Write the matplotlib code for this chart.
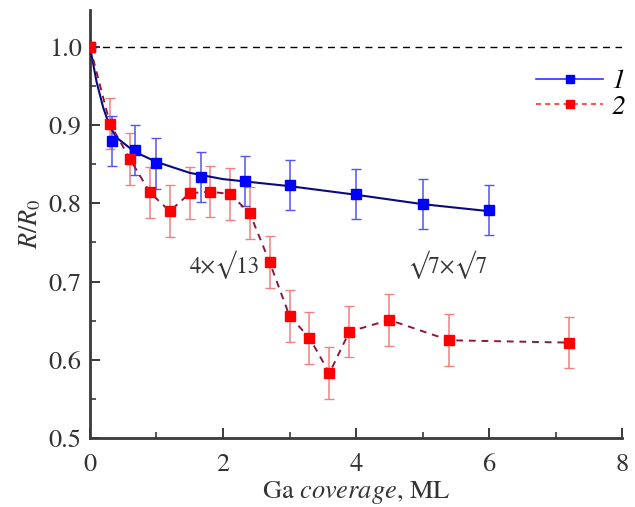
import numpy as np
import matplotlib
matplotlib.use("Agg")
import matplotlib.pyplot as plt
from matplotlib.ticker import MultipleLocator

plt.rcParams["font.family"] = ["STIXGeneral", "DejaVu Serif"]
plt.rcParams["mathtext.fontset"] = "stix"

# ---------------------------------------------------------------------
# Data
# ---------------------------------------------------------------------
cov_1 = [0.0, 0.33, 0.67, 1.0, 1.67, 2.33, 3.0, 4.0, 5.0, 6.0]
r_1 = [1.0, 0.880, 0.868, 0.851, 0.834, 0.829, 0.824, 0.812, 0.799, 0.791]
err_1 = [0.0, 0.032, 0.032, 0.032, 0.032, 0.032, 0.032, 0.032, 0.032, 0.032]

# smooth guide curve through series 1
fit_x = [0.0, 0.1, 0.2, 0.3, 0.4, 0.67, 1.0, 1.5, 2.0, 3.0, 4.0, 5.0, 6.0]
fit_y = [1.0, 0.955, 0.922, 0.898, 0.884, 0.866, 0.853, 0.839, 0.831, 0.822, 0.811, 0.799, 0.790]

cov_2 = [0.0, 0.3, 0.6, 0.9, 1.2, 1.5, 1.8, 2.1, 2.4, 2.7,
         3.0, 3.3, 3.6, 3.9, 4.5, 5.4, 7.2]
r_2 = [1.0, 0.902, 0.857, 0.814, 0.790, 0.813, 0.815, 0.812, 0.788, 0.725,
       0.656, 0.628, 0.583, 0.636, 0.651, 0.625, 0.622]
err_2 = [0.0] + [0.033] * 16

# ---------------------------------------------------------------------
# Figure
# ---------------------------------------------------------------------
fig = plt.figure(figsize=(6.35, 5.07), dpi=100)
ax = fig.add_axes([0.1417, 0.136, 0.838, 0.844])

ax.axhline(1.0, color="black", lw=1.0, ls=(0, (5, 4)), zorder=1)

ax.errorbar(cov_2, r_2, yerr=err_2, fmt="none", ecolor="#f08080",
            elinewidth=1.1, capsize=3.5, capthick=1.0, zorder=2)
ax.errorbar(cov_1, r_1, yerr=err_1, fmt="none", ecolor="#5555ee",
            elinewidth=1.1, capsize=3.5, capthick=1.0, zorder=2)

ax.plot(fit_x, fit_y, color="#0a0a80", lw=1.5, zorder=3)
ax.plot(cov_2, r_2, color="#8b1a3a", lw=1.4, ls=(0, (3.5, 3)), zorder=3)

ax.plot(cov_1, r_1, ls="none", marker="s", ms=7.5, color="#0000ff", zorder=4)
ax.plot(cov_2, r_2, ls="none", marker="s", ms=7, color="#ff0000", zorder=4)

# legend handles
h1, = ax.plot([], [], color="#3030ff", lw=1.2, marker="s", ms=6,
              markerfacecolor="#0000ff", markeredgecolor="#0000ff")
h2, = ax.plot([], [], color="#ff3030", lw=1.2, ls=(0, (3, 2.5)), marker="s",
              ms=6, markerfacecolor="#ff0000", markeredgecolor="#ff0000")
leg = ax.legend([h1, h2], ["1", "2"],
                loc="upper left", bbox_to_anchor=(0.813, 0.895), frameon=False,
                prop={"size": 20, "style": "italic"}, handlelength=2.4,
                handletextpad=0.3, labelspacing=0.0, borderpad=0)

ax.text(2.03, 0.721, "4×√13", fontsize=16.5, color="#333333",
        ha="center", va="center")
ax.text(5.38, 0.721, "√7×√7", fontsize=16.5, color="#333333",
        ha="center", va="center")

ax.set_xlim(0, 8)
ax.set_ylim(0.5, 1.047)
ax.xaxis.set_major_locator(MultipleLocator(2))
ax.xaxis.set_minor_locator(MultipleLocator(1))
ax.yaxis.set_minor_locator(MultipleLocator(0.05))
ax.set_yticks([0.5, 0.6, 0.7, 0.8, 0.9, 1.0])
ax.set_yticklabels(["0.5", "0.6", "0.7", "0.8", "0.9", "1.0"])

for side in ["top", "right"]:
    ax.spines[side].set_visible(False)
for side in ["left", "bottom"]:
    ax.spines[side].set_linewidth(2.0)
    ax.spines[side].set_color("#3a3a3a")

ax.tick_params(which="major", direction="in", length=7, width=1.4,
               colors="#3a3a3a", labelsize=19, labelcolor="#333333", pad=6)
ax.tick_params(axis="x", which="major", pad=11)
ax.tick_params(which="minor", direction="in", length=4, width=1.2,
               colors="#3a3a3a")

ax.set_xlabel(r"Ga $\mathit{coverage}$, ML", fontsize=19, color="#333333",
              labelpad=1)
ax.set_ylabel(r"$R/R_{\mathrm{0}}$", fontsize=19, color="#333333", labelpad=4)

fig.savefig("out.png", dpi=100)
